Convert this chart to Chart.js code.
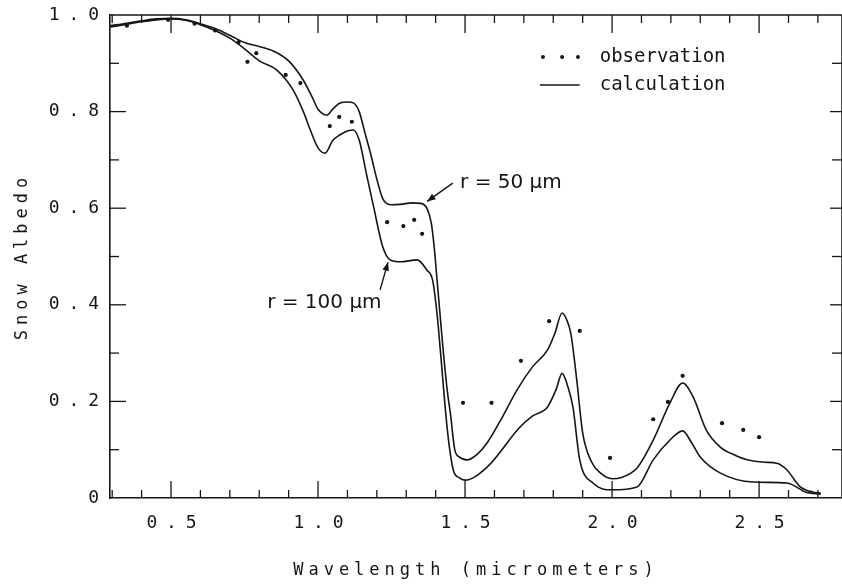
<!DOCTYPE html>
<html><head><meta charset="utf-8">
<script src="https://cdn.jsdelivr.net/npm/chart.js@4/dist/chart.umd.min.js"></script>
<style>html,body{margin:0;padding:0;background:#fff;overflow:hidden}#wrap{width:842px;height:587px}</style>
</head><body><div id="wrap"><canvas id="c" width="842" height="587"></canvas></div>
<script>
// ---- data ----
const calcWavelength50 = [0.293,0.35,0.40,0.45,0.50,0.55,0.60,0.65,0.70,0.75,0.80,0.85,0.90,0.95,0.98,1.00,1.03,1.05,1.075,1.10,1.12,1.14,1.16,1.18,1.20,1.22,1.25,1.28,1.32,1.35,1.37,1.385,1.395,1.405,1.415,1.425,1.44,1.45,1.465,1.48,1.507,1.54,1.575,1.62,1.677,1.73,1.78,1.805,1.83,1.845,1.86,1.88,1.90,1.93,1.96,2.00,2.03,2.085,2.14,2.197,2.24,2.276,2.32,2.367,2.42,2.46,2.52,2.56,2.595,2.62,2.64,2.685,2.71];
const calcAlbedo50 = [0.978,0.983,0.988,0.992,0.993,0.990,0.982,0.972,0.958,0.943,0.935,0.925,0.905,0.865,0.830,0.805,0.793,0.805,0.818,0.820,0.818,0.800,0.755,0.710,0.660,0.620,0.607,0.608,0.611,0.610,0.600,0.570,0.520,0.450,0.380,0.310,0.220,0.176,0.100,0.085,0.079,0.090,0.114,0.160,0.224,0.272,0.306,0.340,0.383,0.370,0.340,0.244,0.135,0.075,0.052,0.040,0.042,0.062,0.120,0.197,0.238,0.209,0.141,0.106,0.088,0.079,0.074,0.072,0.058,0.038,0.023,0.012,0.010];
const calcWavelength100 = [0.293,0.35,0.40,0.45,0.50,0.55,0.60,0.65,0.70,0.75,0.80,0.86,0.915,0.95,0.975,1.00,1.024,1.05,1.075,1.10,1.12,1.14,1.165,1.19,1.22,1.245,1.28,1.337,1.37,1.39,1.405,1.415,1.44,1.46,1.48,1.50,1.575,1.687,1.73,1.78,1.81,1.83,1.85,1.867,1.89,1.935,2.00,2.085,2.14,2.197,2.24,2.27,2.30,2.367,2.48,2.595,2.66,2.71];
const calcAlbedo100 = [0.975,0.981,0.986,0.990,0.992,0.989,0.980,0.968,0.952,0.930,0.905,0.886,0.845,0.800,0.760,0.725,0.714,0.740,0.752,0.760,0.762,0.741,0.670,0.600,0.520,0.493,0.489,0.493,0.472,0.450,0.380,0.313,0.140,0.058,0.042,0.037,0.064,0.147,0.170,0.188,0.225,0.258,0.230,0.188,0.079,0.031,0.017,0.023,0.079,0.120,0.139,0.115,0.085,0.052,0.033,0.031,0.012,0.008];
const obsWavelength = [0.35,0.49,0.58,0.65,0.73,0.76,0.79,0.89,0.94,1.04,1.072,1.115,1.235,1.29,1.327,1.354,1.493,1.59,1.69,1.786,1.89,1.993,2.14,2.19,2.24,2.374,2.446,2.50];
const obsAlbedo = [0.978,0.990,0.982,0.968,0.944,0.903,0.921,0.876,0.859,0.770,0.789,0.779,0.571,0.563,0.576,0.547,0.197,0.197,0.284,0.366,0.346,0.083,0.163,0.199,0.253,0.155,0.141,0.126];
const xTickValues = [0.5,1.0,1.5,2.0,2.5];
const xTickLabels = ['0 . 5','1 . 0','1 . 5','2 . 0','2 . 5'];
const yTickValues = [0,0.2,0.4,0.6,0.8,1.0];
const yTickLabels = ['0','0 . 2','0 . 4','0 . 6','0 . 8','1 . 0'];
const seriesNames = ['observation','calculation'];
const curveLabels = ['r = 50 \u00b5m','r = 100 \u00b5m'];

const toPts = (xs, ys) => xs.map((x, i) => ({x, y: ys[i]}));
const INK = '#151515';
const MONO = '"DejaVu Sans Mono", "Liberation Mono", monospace';

function line(ctx, x1, y1, x2, y2){ ctx.beginPath(); ctx.moveTo(x1,y1); ctx.lineTo(x2,y2); ctx.stroke(); }
function arrow(ctx, x1, y1, x2, y2){
  line(ctx, x1, y1, x2, y2);
  const a = Math.atan2(y2-y1, x2-x1), L = 9, W = 0.38;
  ctx.beginPath(); ctx.moveTo(x2, y2);
  ctx.lineTo(x2 - L*Math.cos(a-W), y2 - L*Math.sin(a-W));
  ctx.lineTo(x2 - L*Math.cos(a+W), y2 - L*Math.sin(a+W));
  ctx.closePath(); ctx.fill();
}

const framePlugin = {
  id: 'frame',
  beforeDraw(chart){ chart.ctx.letterSpacing = '5px'; },
  beforeDatasetsDraw(chart){ chart.ctx.letterSpacing = '-1px'; },
  afterDraw(chart){
    const ctx = chart.ctx, xs = chart.scales.x, ys = chart.scales.y;
    const {left, right, top, bottom} = chart.chartArea;
    ctx.save();
    ctx.letterSpacing = '0px';
    ctx.strokeStyle = INK; ctx.fillStyle = INK; ctx.lineWidth = 1.5;
    line(ctx, left, top, right, top);
    line(ctx, right, top, right, bottom);
    ctx.lineWidth = 1.3;
    for (let i = 3; i <= 27; i++){
      const px = xs.getPixelForValue(i/10), major = i % 5 === 0;
      line(ctx, px, bottom, px, bottom - (major ? 17 : 8));
      line(ctx, px, top, px, top + (major ? 18 : 8));
    }
    for (let i = 1; i <= 9; i++){
      const py = ys.getPixelForValue(i/10), major = i % 2 === 0;
      line(ctx, left, py, left + (major ? 16 : 9), py);
      line(ctx, right, py, right - (major ? 12 : 10), py);
    }
    // legend
    const ly1 = ys.getPixelForValue(0.913), ly2 = ys.getPixelForValue(0.855);
    [1.765, 1.83, 1.884].forEach(v => { ctx.beginPath(); ctx.arc(xs.getPixelForValue(v), ly1, 2, 0, Math.PI*2); ctx.fill(); });
    ctx.lineWidth = 1.5;
    line(ctx, xs.getPixelForValue(1.755), ly2, xs.getPixelForValue(1.89), ly2);
    ctx.font = '19px ' + MONO; ctx.textBaseline = 'middle'; ctx.textAlign = 'left';
    ctx.fillText(seriesNames[0], xs.getPixelForValue(1.958), ly1);
    ctx.fillText(seriesNames[1], xs.getPixelForValue(1.958), ly2);
    // curve annotations
    ctx.font = '20px "DejaVu Sans", sans-serif';
    ctx.fillText(curveLabels[0], xs.getPixelForValue(1.483), ys.getPixelForValue(0.652));
    ctx.fillText(curveLabels[1], xs.getPixelForValue(0.827), ys.getPixelForValue(0.404));
    ctx.lineWidth = 1.4;
    arrow(ctx, xs.getPixelForValue(1.458), ys.getPixelForValue(0.652), xs.getPixelForValue(1.371), ys.getPixelForValue(0.614));
    arrow(ctx, xs.getPixelForValue(1.211), ys.getPixelForValue(0.431), xs.getPixelForValue(1.238), ys.getPixelForValue(0.488));
    ctx.restore();
  }
};

new Chart(document.getElementById('c'), {
  type: 'scatter',
  data: {
    datasets: [
      { label: seriesNames[0], data: toPts(obsWavelength, obsAlbedo), showLine: false,
        pointRadius: 2.1, pointBackgroundColor: INK, pointBorderWidth: 0 },
      { label: curveLabels[0], data: toPts(calcWavelength50, calcAlbedo50), showLine: true,
        pointRadius: 0, borderColor: INK, borderWidth: 1.6, cubicInterpolationMode: 'monotone' },
      { label: curveLabels[1], data: toPts(calcWavelength100, calcAlbedo100), showLine: true,
        pointRadius: 0, borderColor: INK, borderWidth: 1.6, cubicInterpolationMode: 'monotone' }
    ]
  },
  options: {
    responsive: false, animation: false, devicePixelRatio: 1,
    layout: { autoPadding: false, padding: { top: 15, right: 0, left: 0, bottom: 0 } },
    plugins: { legend: { display: false }, tooltip: { enabled: false } },
    scales: {
      x: {
        type: 'linear', min: 0.2925, max: 2.782,
        afterFit: s => { s.height = 89; s.paddingLeft = 0; s.paddingRight = 0; },
        afterBuildTicks: s => { s.ticks = xTickValues.map(v => ({value: v})); },
        grid: { display: false, drawTicks: false },
        border: { display: true, color: INK, width: 1.6 },
        ticks: { z: 1, autoSkip: false, maxRotation: 0, padding: 15, color: INK,
          font: { family: MONO, size: 18 },
          callback: v => { const i = xTickValues.findIndex(t => Math.abs(t - v) < 1e-6); return i >= 0 ? xTickLabels[i] : ''; } },
        title: { display: true, text: 'Wavelength (micrometers)', color: INK,
          font: { family: MONO, size: 17 }, padding: { top: 0, bottom: 6 } }
      },
      y: {
        type: 'linear', min: 0, max: 1.0,
        afterFit: s => { s.width = 110; s.paddingTop = 0; s.paddingBottom = 0; },
        afterBuildTicks: s => { s.ticks = yTickValues.map(v => ({value: v})); },
        grid: { display: false, drawTicks: false },
        border: { display: true, color: INK, width: 1.6 },
        ticks: { z: 1, padding: 12, color: INK, font: { family: MONO, size: 18 },
          callback: v => { const i = yTickValues.findIndex(t => Math.abs(t - v) < 1e-6); return i >= 0 ? yTickLabels[i] : ''; } },
        title: { display: true, text: 'Snow Albedo', color: INK,
          font: { family: MONO, size: 17 }, padding: { top: 12, bottom: 0 } }
      }
    }
  },
  plugins: [framePlugin]
});
</script></body></html>
